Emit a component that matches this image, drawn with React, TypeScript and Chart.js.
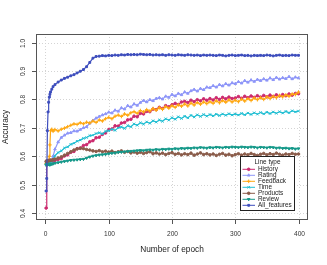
import React, { useEffect, useRef } from 'react';
import { Chart, registerables } from 'chart.js';
import { drawPoint } from 'chart.js/helpers';

Chart.register(...registerables);

const epochs = [
  1, 2, 3, 4, 5, 6, 7, 8, 10, 12, 15,
  20, 25, 30, 35, 40, 45, 50, 55,
  60, 65, 70, 75, 80, 85, 90, 95,
  100, 105, 110, 115, 120, 125, 130, 135,
  140, 145, 150, 155, 160, 165, 170, 175,
  180, 185, 190, 195, 200, 205, 210, 215,
  220, 225, 230, 235, 240, 245, 250, 255,
  260, 265, 270, 275, 280, 285, 290, 295,
  300, 305, 310, 315, 320, 325, 330, 335,
  340, 345, 350, 355, 360, 365, 370, 375,
  380, 385, 390, 395, 400,
];

const historyAcc = [
  0.418, 0.580, 0.582, 0.581, 0.583, 0.582, 0.584, 0.583, 0.585, 0.583, 0.586,
  0.589, 0.592, 0.601, 0.605, 0.614, 0.617, 0.627, 0.629,
  0.638, 0.641, 0.651, 0.655, 0.665, 0.667, 0.677, 0.682,
  0.694, 0.696, 0.707, 0.706, 0.717, 0.719, 0.728, 0.730,
  0.741, 0.739, 0.751, 0.749, 0.758, 0.757, 0.766, 0.764,
  0.772, 0.768, 0.778, 0.774, 0.781, 0.786, 0.782, 0.791,
  0.793, 0.789, 0.797, 0.792, 0.799, 0.795, 0.802, 0.797,
  0.803, 0.798, 0.806, 0.800, 0.807, 0.802, 0.808, 0.803,
  0.805, 0.810, 0.804, 0.811, 0.806, 0.812, 0.807, 0.813,
  0.808, 0.814, 0.809, 0.815, 0.810, 0.816, 0.812, 0.817,
  0.813, 0.819, 0.815, 0.821, 0.820,
];

const ratingAcc = [
  0.572, 0.575, 0.574, 0.573, 0.576, 0.575, 0.577, 0.578, 0.585, 0.600, 0.625,
  0.650, 0.666, 0.674, 0.681, 0.683, 0.689, 0.688, 0.694,
  0.700, 0.704, 0.716, 0.726, 0.734, 0.740, 0.745, 0.749,
  0.755, 0.752, 0.762, 0.758, 0.770, 0.766, 0.778, 0.773,
  0.784, 0.779, 0.789, 0.796, 0.791, 0.799, 0.795, 0.803,
  0.806, 0.801, 0.811, 0.807, 0.817, 0.812, 0.821, 0.816,
  0.826, 0.821, 0.830, 0.835, 0.829, 0.838, 0.834, 0.843,
  0.841, 0.848, 0.843, 0.852, 0.847, 0.855, 0.850, 0.858,
  0.855, 0.862, 0.857, 0.866, 0.860, 0.868, 0.863, 0.870,
  0.866, 0.872, 0.867, 0.875, 0.869, 0.877, 0.871, 0.876,
  0.873, 0.880, 0.872, 0.878, 0.875,
];

const feedbackAcc = [
  0.575, 0.576, 0.578, 0.577, 0.578, 0.600, 0.640, 0.690, 0.695, 0.688, 0.694,
  0.689, 0.695, 0.699, 0.704, 0.709, 0.714, 0.712, 0.718,
  0.714, 0.720, 0.717, 0.724, 0.719, 0.728, 0.724, 0.732,
  0.737, 0.732, 0.741, 0.745, 0.740, 0.749, 0.744, 0.753,
  0.757, 0.751, 0.761, 0.756, 0.764, 0.759, 0.768, 0.762,
  0.771, 0.765, 0.775, 0.769, 0.778, 0.772, 0.781, 0.776,
  0.784, 0.777, 0.787, 0.780, 0.789, 0.783, 0.791, 0.785,
  0.792, 0.786, 0.795, 0.788, 0.796, 0.790, 0.798, 0.791,
  0.797, 0.792, 0.801, 0.794, 0.803, 0.796, 0.805, 0.799,
  0.806, 0.800, 0.809, 0.803, 0.811, 0.806, 0.814, 0.809,
  0.816, 0.811, 0.819, 0.817, 0.826,
];

const timeAcc = [
  0.574, 0.576, 0.575, 0.577, 0.576, 0.578, 0.577, 0.579, 0.582, 0.590, 0.602,
  0.613, 0.619, 0.629, 0.633, 0.642, 0.646, 0.653, 0.657,
  0.663, 0.666, 0.673, 0.674, 0.680, 0.683, 0.679, 0.688,
  0.690, 0.695, 0.691, 0.700, 0.703, 0.698, 0.708, 0.704,
  0.714, 0.709, 0.718, 0.713, 0.721, 0.716, 0.725, 0.720,
  0.728, 0.723, 0.732, 0.727, 0.736, 0.730, 0.739, 0.733,
  0.741, 0.735, 0.744, 0.738, 0.746, 0.740, 0.747, 0.741,
  0.747, 0.742, 0.748, 0.743, 0.749, 0.744, 0.750, 0.745,
  0.749, 0.745, 0.751, 0.746, 0.752, 0.747, 0.753, 0.748,
  0.754, 0.749, 0.755, 0.750, 0.756, 0.751, 0.757, 0.752,
  0.758, 0.753, 0.760, 0.756, 0.759,
];

const productsAcc = [
  0.582, 0.584, 0.583, 0.585, 0.584, 0.586, 0.585, 0.587, 0.586, 0.588, 0.590,
  0.594, 0.598, 0.604, 0.610, 0.616, 0.622, 0.626, 0.628,
  0.627, 0.624, 0.622, 0.619, 0.617, 0.620, 0.616, 0.618,
  0.615, 0.618, 0.613, 0.616, 0.619, 0.614, 0.617, 0.612,
  0.615, 0.611, 0.614, 0.610, 0.613, 0.616, 0.609, 0.612,
  0.608, 0.611, 0.606, 0.610, 0.613, 0.607, 0.610, 0.605,
  0.609, 0.606, 0.611, 0.604, 0.608, 0.612, 0.606, 0.609,
  0.605, 0.608, 0.603, 0.607, 0.610, 0.604, 0.607, 0.602,
  0.606, 0.609, 0.604, 0.608, 0.605, 0.610, 0.606, 0.603,
  0.607, 0.610, 0.605, 0.609, 0.606, 0.611, 0.607, 0.604,
  0.608, 0.606, 0.610, 0.607, 0.608,
];

const reviewAcc = [
  0.570, 0.571, 0.570, 0.572, 0.571, 0.572, 0.570, 0.573, 0.572, 0.574, 0.576,
  0.578, 0.580, 0.582, 0.584, 0.586, 0.587, 0.588, 0.589,
  0.590, 0.594, 0.598, 0.601, 0.603, 0.605, 0.606, 0.607,
  0.609, 0.611, 0.612, 0.614, 0.615, 0.616, 0.617, 0.618,
  0.619, 0.620, 0.621, 0.620, 0.622, 0.623, 0.622, 0.624,
  0.623, 0.625, 0.624, 0.626, 0.625, 0.627, 0.626, 0.628,
  0.627, 0.629, 0.628, 0.630, 0.629, 0.631, 0.630, 0.629,
  0.631, 0.630, 0.632, 0.631, 0.630, 0.632, 0.631, 0.633,
  0.632, 0.631, 0.633, 0.632, 0.631, 0.633, 0.632, 0.630,
  0.632, 0.631, 0.630, 0.632, 0.631, 0.629, 0.630, 0.628,
  0.629, 0.627, 0.628, 0.626, 0.627,
];

const allFeaturesAcc = [
  0.478, 0.522, 0.690, 0.756, 0.790, 0.808, 0.818, 0.826, 0.836, 0.845, 0.852,
  0.861, 0.868, 0.874, 0.878, 0.883, 0.887, 0.893, 0.899,
  0.905, 0.915, 0.930, 0.945, 0.951, 0.952, 0.954, 0.953,
  0.955, 0.954, 0.956, 0.955, 0.957, 0.956, 0.958, 0.957,
  0.958, 0.957, 0.959, 0.958, 0.957, 0.958, 0.956, 0.957,
  0.956, 0.957, 0.955, 0.957, 0.956, 0.955, 0.957, 0.956,
  0.955, 0.957, 0.956, 0.955, 0.956, 0.954, 0.956, 0.955,
  0.956, 0.955, 0.954, 0.956, 0.955, 0.953, 0.955, 0.956,
  0.954, 0.955, 0.956, 0.954, 0.955, 0.953, 0.955, 0.954,
  0.955, 0.954, 0.956, 0.955, 0.953, 0.955, 0.956, 0.954,
  0.955, 0.954, 0.956, 0.955, 0.955,
];

const seriesNames = ['History', 'Rating', 'Feedback', 'Time', 'Products', 'Review', 'All_features'];
const seriesValues = [historyAcc, ratingAcc, feedbackAcc, timeAcc, productsAcc, reviewAcc, allFeaturesAcc];
const seriesColors = ['#CC2A6E', '#8E96F8', '#FFA812', '#20BED2', '#8A5C4A', '#16998A', '#3E4EBD'];
const seriesStyles = ['circle', 'triangle', 'cross', 'crossRot', 'circle', 'triangle', 'rect'];
const seriesRotations = [0, 0, 0, 0, 0, 180, 0];
const seriesRadii = [1.3, 1.5, 1.8, 1.7, 1.3, 1.5, 1.3];

const xTicks = [0, 100, 200, 300, 400];
const yTicks = [0.4, 0.5, 0.6, 0.7, 0.8, 0.9, 1.0];
const yTickLabels = ['0.4', '0.5', '0.6', '0.7', '0.8', '0.9', '1.0'];
const xTitle = 'Number of epoch';
const yTitle = 'Accuracy';
const legendTitle = 'Line type';

const FONT = '"Liberation Sans", Arial, Helvetica, sans-serif';

const rStylePlugin = {
  id: 'rStyle',
  beforeDatasetsDraw(chart: any) {
    const { ctx, chartArea: a, scales } = chart;
    const x = scales.x;
    const y = scales.y;
    ctx.save();
    ctx.strokeStyle = '#d4d4d4';
    ctx.lineWidth = 1;
    ctx.setLineDash([1, 2]);
    for (const v of xTicks) {
      const px = Math.round(x.getPixelForValue(v)) + 0.5;
      ctx.beginPath();
      ctx.moveTo(px, a.top);
      ctx.lineTo(px, a.bottom);
      ctx.stroke();
    }
    for (const v of yTicks) {
      const py = Math.round(y.getPixelForValue(v)) + 0.5;
      ctx.beginPath();
      ctx.moveTo(a.left, py);
      ctx.lineTo(a.right, py);
      ctx.stroke();
    }
    ctx.restore();
  },
  afterDatasetsDraw(chart: any) {
    const { ctx, chartArea: a, scales } = chart;
    const x = scales.x;
    const y = scales.y;
    ctx.save();
    ctx.strokeStyle = '#555555';
    ctx.lineWidth = 1;
    ctx.setLineDash([]);
    ctx.strokeRect(a.left + 0.5, a.top + 0.5, a.right - a.left - 1, a.bottom - a.top - 1);
    ctx.fillStyle = '#333333';
    ctx.font = `6.6px ${FONT}`;
    ctx.textAlign = 'center';
    ctx.textBaseline = 'middle';
    for (const v of xTicks) {
      const px = Math.round(x.getPixelForValue(v)) + 0.5;
      ctx.beginPath();
      ctx.moveTo(px, a.bottom);
      ctx.lineTo(px, a.bottom + 4);
      ctx.stroke();
      ctx.fillText(String(v), px, a.bottom + 14.5);
    }
    yTicks.forEach((v, i) => {
      const py = Math.round(y.getPixelForValue(v)) + 0.5;
      ctx.beginPath();
      ctx.moveTo(a.left - 4, py);
      ctx.lineTo(a.left, py);
      ctx.stroke();
      ctx.save();
      ctx.translate(a.left - 13, py);
      ctx.rotate(-Math.PI / 2);
      ctx.fillText(yTickLabels[i], 0, 0);
      ctx.restore();
    });
    ctx.fillStyle = '#222222';
    ctx.font = `8.3px ${FONT}`;
    ctx.fillText(xTitle, (a.left + a.right) / 2, 250);
    ctx.save();
    ctx.translate(6, (a.top + a.bottom) / 2);
    ctx.rotate(-Math.PI / 2);
    ctx.fillText(yTitle, 0, 0);
    ctx.restore();

    const lx = 240.5;
    const ly = 156.5;
    const lw = 54;
    const lh = 54;
    ctx.fillStyle = '#ffffff';
    ctx.fillRect(lx, ly, lw, lh);
    ctx.strokeStyle = '#222222';
    ctx.strokeRect(lx, ly, lw, lh);
    ctx.fillStyle = '#222222';
    ctx.font = `6.4px ${FONT}`;
    ctx.textAlign = 'center';
    ctx.fillText(legendTitle, lx + lw / 2, ly + 5.5);
    ctx.textAlign = 'left';
    chart.data.datasets.forEach((ds: any, i: number) => {
      const ey = ly + 12.8 + i * 6;
      ctx.strokeStyle = ds.borderColor;
      ctx.fillStyle = ds.borderColor;
      ctx.lineWidth = 1;
      ctx.beginPath();
      ctx.moveTo(lx + 2, ey);
      ctx.lineTo(lx + 14.5, ey);
      ctx.stroke();
      drawPoint(ctx, {
        pointStyle: ds.pointStyle,
        rotation: ds.rotation || 0,
        radius: ds.pointRadius,
        borderWidth: 1,
      }, lx + 8.2, ey);
      ctx.fillStyle = '#222222';
      ctx.fillText(ds.label, lx + 17.5, ey + 0.3);
    });
    ctx.restore();
  },
};

export default function App() {
  const canvasRef = useRef<HTMLCanvasElement | null>(null);

  useEffect(() => {
    const canvas = canvasRef.current;
    if (!canvas) return;
    const datasets = seriesNames.map((name, i) => ({
      label: name,
      data: epochs.map((e, j) => ({ x: e, y: seriesValues[i][j] })),
      borderColor: seriesColors[i],
      backgroundColor: seriesColors[i],
      pointBackgroundColor: seriesColors[i],
      pointBorderColor: seriesColors[i],
      borderWidth: 1.2,
      pointStyle: seriesStyles[i],
      rotation: seriesRotations[i],
      pointRadius: seriesRadii[i],
      pointBorderWidth: 1,
      tension: 0,
      fill: false,
      order: seriesNames.length - i,
    }));
    const chart = new Chart(canvas, {
      type: 'line',
      data: { datasets },
      options: {
        animation: false,
        responsive: false,
        devicePixelRatio: 1,
        layout: { padding: { left: 36, top: 34, right: 19, bottom: 45 } },
        plugins: { legend: { display: false }, tooltip: { enabled: false } },
        events: [],
        scales: {
          x: { type: 'linear', min: -15, max: 415, display: false },
          y: { type: 'linear', min: 0.376, max: 1.03, display: false },
        },
      },
      plugins: [rStylePlugin],
    } as any);
    return () => chart.destroy();
  }, []);

  return (
    <div style={{ position: 'absolute', left: 0, top: 0, width: 327, height: 265, background: '#ffffff' }}>
      <canvas ref={canvasRef} width={327} height={265} />
    </div>
  );
}
